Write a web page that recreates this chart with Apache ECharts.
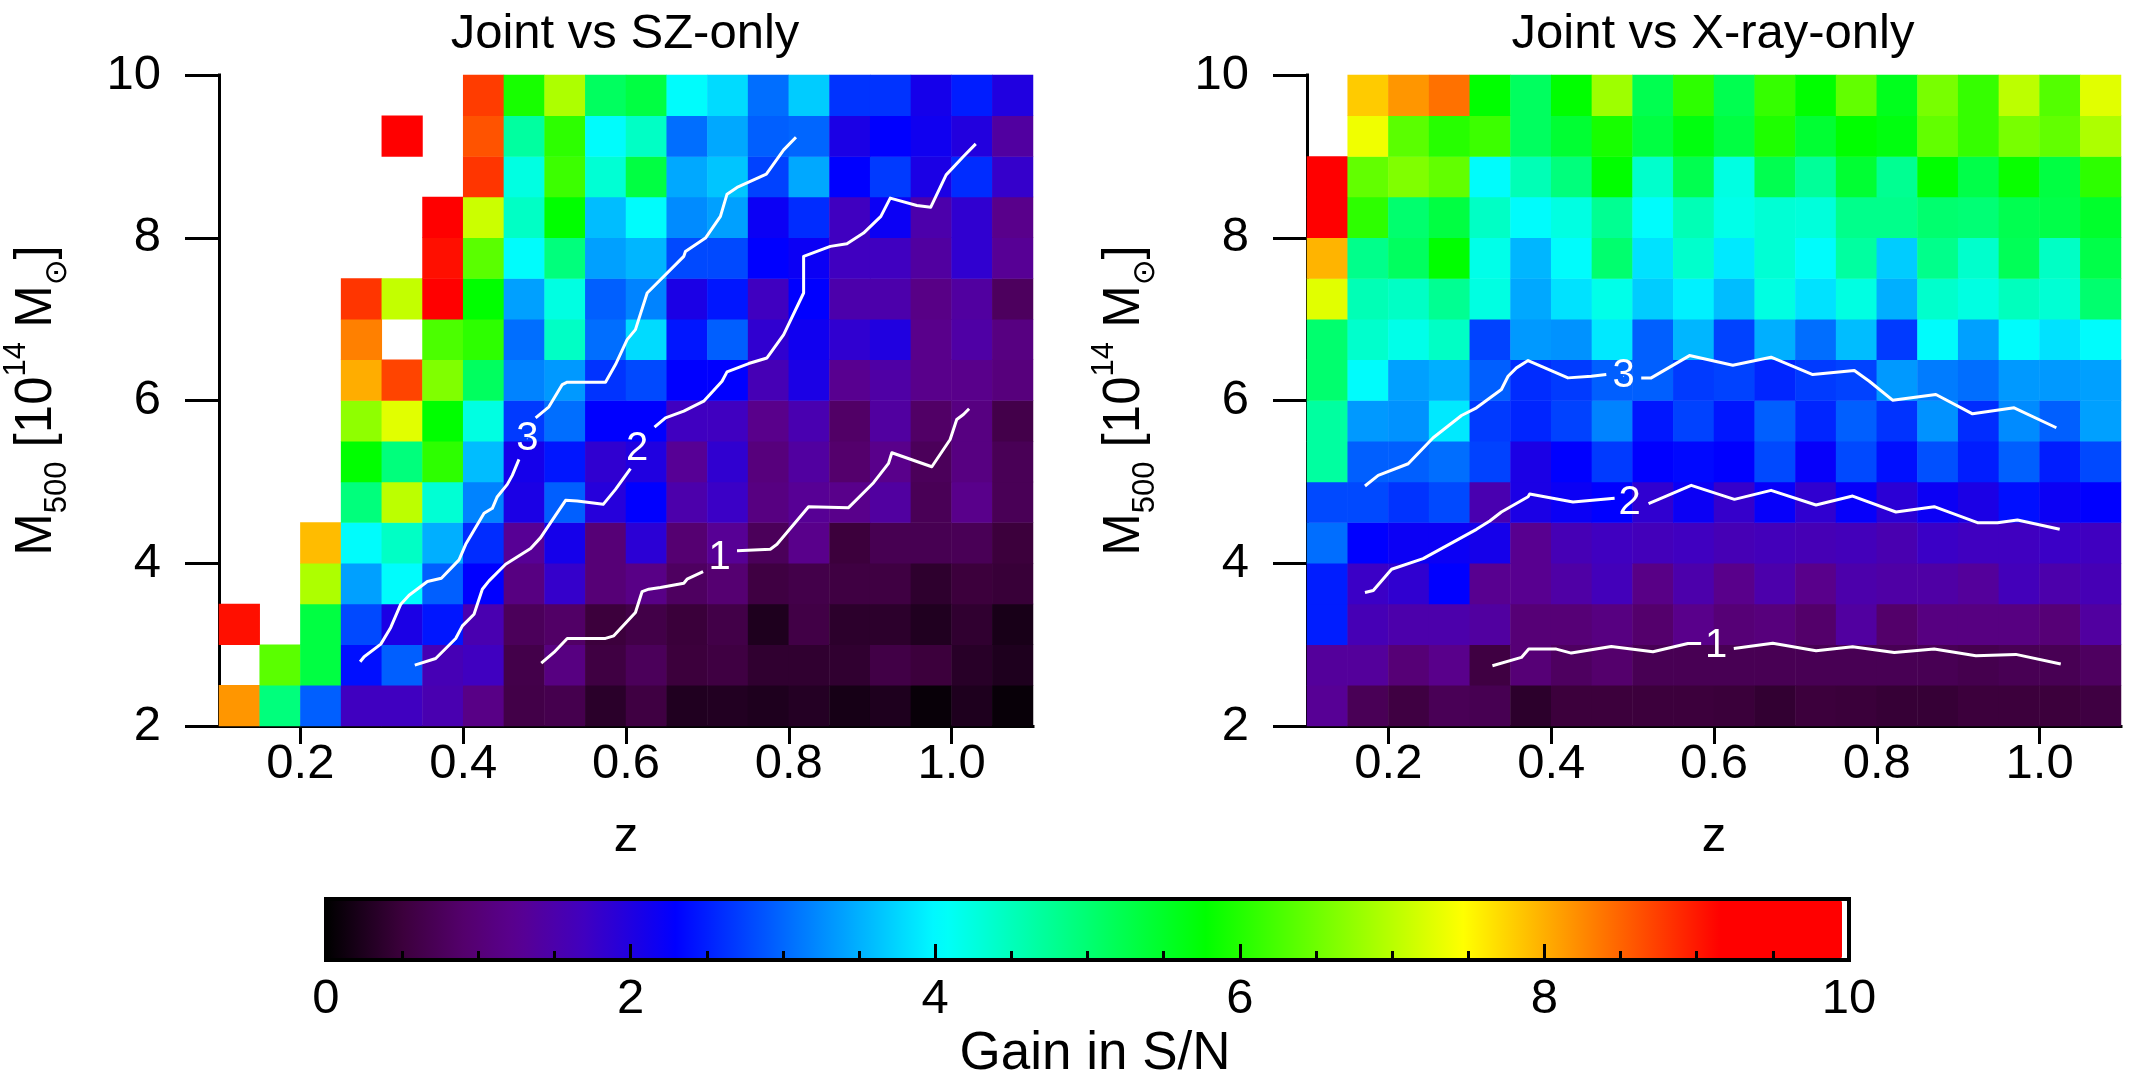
<!DOCTYPE html>
<html><head><meta charset="utf-8">
<style>html,body{margin:0;padding:0;background:#fff}#main{width:2132px;height:1082px}</style>
<script src="https://cdn.jsdelivr.net/npm/echarts@6/dist/echarts.min.js"></script>
</head><body><div id="main"></div>
<script>
var FONT = '"Liberation Sans","DejaVu Sans",sans-serif';
var zBins = ['0.10','0.15','0.20','0.25','0.30','0.35','0.40','0.45','0.50','0.55','0.60','0.65','0.70','0.75','0.80','0.85','0.90','0.95','1.00','1.05'];
var massBins = ['2.0','2.5','3.0','3.5','4.0','4.5','5.0','5.5','6.0','6.5','7.0','7.5','8.0','8.5','9.0','9.5'];
var zTicks = [0.2,0.4,0.6,0.8,1.0];
var _ = null;
// rows run from M500 = 2-2.5 (first) to 9.5-10 (last)
var gainSZ = [
[8.2,4.95,2.95,1.7,1.7,1.55,1.15,.6,.65,.35,.55,.27,.28,.25,.3,.18,.25,.07,.25,.07],
[_,6.4,5.35,2.4,2.95,1.6,1.7,.62,1.1,.55,.75,.5,.55,.4,.4,.4,.58,.5,.33,.25],
[9.1,_,5.35,2.8,2.05,2.45,1.55,.75,.85,.5,.6,.48,.6,.25,.58,.37,.37,.27,.4,.2],
[_,_,6.95,3.4,4.05,2.95,2.3,1.1,1.8,1.0,1.15,.8,.95,.55,.62,.55,.55,.38,.5,.47],
[_,_,7.95,4.05,4.45,3.5,2.6,1.3,2.1,1.0,1.9,.95,1.3,.75,1.2,.5,.68,.68,.72,.5],
[_,_,_,4.95,7.05,4.35,3.2,2.05,2.95,1.95,2.3,1.5,1.75,1.1,1.3,1.2,1.4,.72,1.2,.72],
[_,_,_,5.8,4.95,6.1,3.6,2.1,2.45,1.85,2.0,1.3,1.85,1.05,1.4,.9,1.2,.75,1.1,.72],
[_,_,_,6.75,7.3,5.8,4.25,2.7,3.05,2.3,2.3,1.7,1.7,1.2,1.55,.85,1.4,.85,1.1,.62],
[_,_,_,8.05,8.75,6.65,5.15,3.2,3.35,2.65,2.8,2.3,2.3,1.6,2.05,1.25,1.45,1.2,1.2,1.05],
[_,_,_,8.35,_,6.3,6.1,3.05,4.45,3.05,3.8,2.45,2.95,1.85,2.15,1.85,2.0,1.2,1.45,1.1],
[_,_,_,8.85,7.1,9.2,5.8,3.4,4.25,2.95,3.2,2.05,2.45,1.7,2.3,1.5,1.5,1.15,1.4,.78],
[_,_,_,_,_,9.1,6.4,4.05,4.95,3.4,3.55,2.8,2.8,2.3,2.2,1.7,1.7,1.4,1.85,1.3],
[_,_,_,_,_,9.3,7.15,4.45,5.8,3.6,4.05,3.25,3.4,2.2,2.6,1.7,2.2,1.5,1.85,1.2],
[_,_,_,_,_,_,8.85,4.25,6.2,4.35,5.35,3.45,3.65,2.75,3.45,2.3,2.7,2.05,2.6,1.8],
[_,_,_,_,9.3,_,8.65,4.7,6.1,4.05,4.45,3.05,3.45,2.95,3.0,2.05,2.3,2.15,1.98,1.4],
[_,_,_,_,_,_,8.8,5.95,6.95,5.15,5.35,4.05,3.8,3.05,3.7,2.65,2.65,2.1,2.5,2.0]
];
var gainXray = [
[1.3,.72,.55,.72,.68,.37,.5,.5,.5,.5,.48,.42,.5,.48,.45,.45,.5,.5,.5,.55],
[1.35,1.35,1.0,1.2,.55,1.0,.8,.9,.7,.7,.7,.7,.7,.7,.7,.7,.65,.7,.7,.8],
[2.5,1.6,1.5,1.5,1.4,1.0,1.0,1.1,.9,1.2,1.0,1.05,.88,1.4,.88,1.1,1.1,1.1,1.0,1.4],
[2.5,1.75,1.85,2.3,1.25,1.25,1.45,1.65,1.15,1.5,1.2,1.5,1.2,1.5,1.45,1.45,1.35,1.65,1.5,1.6],
[3.05,2.3,2.2,2.2,2.1,1.25,1.6,1.7,1.65,1.7,1.6,1.65,1.6,1.65,1.55,1.75,1.7,1.7,1.75,1.7],
[2.8,2.8,2.65,2.8,1.55,2.05,2.2,2.3,1.85,2.2,1.8,2.25,1.85,2.25,1.9,2.2,2.05,2.4,2.2,2.3],
[4.7,2.95,2.95,3.05,2.75,2.05,2.3,2.7,2.3,2.35,2.3,2.8,2.25,2.8,2.4,2.85,2.5,2.95,2.5,2.8],
[4.7,3.35,3.3,3.9,2.7,2.55,2.75,3.2,2.45,2.75,2.45,2.95,2.55,2.95,2.65,3.3,2.6,3.25,2.95,3.4],
[5.05,4.05,3.4,3.5,2.95,2.6,2.7,2.95,2.95,2.7,2.75,2.55,2.7,2.75,3.35,3.15,3.05,3.35,3.35,3.4],
[5.05,4.4,4.2,4.45,2.75,3.35,3.3,3.9,2.95,3.55,2.75,3.5,3.05,3.6,2.7,4.05,3.4,4.05,3.85,4.05],
[7.3,4.55,4.45,4.8,4.25,3.45,3.85,4.2,3.7,3.95,3.6,4.25,3.85,4.25,3.5,4.4,4.25,4.5,4.35,5.05],
[8.0,4.85,5.15,5.8,4.2,3.55,4.05,5.05,3.85,4.4,3.9,4.35,4.05,4.7,3.7,4.85,4.4,5.2,4.45,5.3],
[9.3,6.1,5.05,5.35,4.45,4.05,4.25,4.8,4.05,4.55,4.2,4.35,4.3,4.85,4.85,5.05,5.0,5.25,5.3,5.5],
[9.3,6.45,6.65,6.45,4.05,4.55,4.95,5.8,4.4,5.25,4.25,5.25,4.75,5.45,4.8,5.8,5.3,5.85,5.35,6.1],
[_,7.4,6.4,6.05,6.2,5.15,5.45,5.95,5.35,5.7,5.35,6.0,5.45,5.8,5.7,6.45,6.15,6.6,6.45,6.95],
[_,7.85,8.2,8.45,5.8,5.15,5.8,6.85,5.25,6.1,5.25,6.15,5.8,6.45,5.6,6.6,6.15,7.05,6.35,7.3]
];
// contour polylines: [z, M500]; null marks the gap left for the level label
var szLevel1 = [[.4959,2.773],[.5114,2.904],[.5278,3.076],[.5748,3.076],[.585,3.108],[.6116,3.395],[.6198,3.652],[.628,3.681],[.6423,3.702],[.671,3.755],[.675,3.804],[.6947,3.898],null,[.7364,4.155],[.7773,4.172],[.7855,4.233],[.8243,4.695],[.8734,4.683],[.9041,4.99],[.9225,5.227],[.9266,5.358],[.9757,5.186],[.9982,5.521],[1.0063,5.767],[1.0145,5.828],[1.0215,5.898]];
var szLevel2 = [[.3405,2.748],[.3662,2.83],[.3908,3.076],[.399,3.231],[.4133,3.374],[.4235,3.681],[.4317,3.783],[.4521,3.988],[.4828,4.18],[.4951,4.315],[.5074,4.499],[.5258,4.773],[.5401,4.765],[.572,4.724],[.5871,4.908],[.6055,5.162],null,[.635,5.673],[.6485,5.787],[.671,5.869],[.6955,5.992],[.718,6.237],[.7241,6.352],[.7507,6.454],[.7732,6.523],[.7937,6.81],[.8182,7.321],[.8182,7.771],[.851,7.894],[.8714,7.926],[.8918,8.057],[.9131,8.262],[.9246,8.487],[.9573,8.397],[.9744,8.376],[.9933,8.773],[1.0145,8.998],[1.0297,9.153]];
var szLevel3 = [[.2734,2.789],[.2783,2.851],[.2988,3.006],[.311,3.211],[.3233,3.497],[.3335,3.607],[.356,3.775],[.3732,3.816],[.3949,4.041],[.4031,4.233],[.4256,4.614],[.4358,4.675],[.4419,4.818],[.4542,4.969],[.4603,5.08],[.4685,5.276],null,[.489,5.787],[.5053,5.922],[.5217,6.196],[.5278,6.225],[.5748,6.225],[.5871,6.442],[.6014,6.748],[.6116,6.871],[.626,7.321],[.671,7.771],[.673,7.832],[.6976,7.996],[.716,8.262],[.7241,8.536],[.7364,8.618],[.7724,8.781],[.7937,9.08],[.8088,9.235]];
var xrayLevel1 = [[.3278,2.74],[.3634,2.843],[.3724,2.945],[.4063,2.945],[.4247,2.896],[.4738,2.978],[.525,2.912],[.5679,3.014],[.5842,3.014],null,[.6243,2.953],[.6722,3.018],[.7254,2.924],[.7703,2.973],[.8215,2.904],[.8705,2.945],[.9217,2.863],[.9708,2.88],[1.026,2.761]];
var xrayLevel2 = [[.1712,3.64],[.1814,3.665],[.2039,3.926],[.2427,4.057],[.3082,4.417],[.3245,4.519],[.3388,4.63],[.3716,4.818],[.3736,4.851],[.4268,4.753],[.4779,4.798],null,[.5196,4.732],[.5413,4.826],[.572,4.957],[.6251,4.785],[.6701,4.896],[.7253,4.716],[.7703,4.826],[.8235,4.63],[.8705,4.695],[.9237,4.499],[.9483,4.499],[.9728,4.532],[1.0247,4.417]];
var xrayLevel3 = [[.1712,4.949],[.1875,5.08],[.2243,5.223],[.255,5.542],[.2898,5.816],[.3082,5.91],[.3388,6.135],[.347,6.298],[.3573,6.401],[.3716,6.491],[.4206,6.278],[.4493,6.298],[.4677,6.319],null,[.5106,6.278],[.5229,6.278],[.5699,6.552],[.6231,6.433],[.6701,6.532],[.7213,6.319],[.7724,6.368],[.7908,6.237],[.8194,6.004],[.8726,6.074],[.9176,5.836],[.9687,5.91],[1.0206,5.665]];
var szLabels = [[.7151,4.07,'1'],[.6137,5.407,'2'],[.4787,5.53,'3']];
var xrayLabels = [[.6027,2.986,'1'],[.4963,4.744,'2'],[.489,6.298,'3']];
// colour scale stops: [gain, r, g, b]
var rampStops = [[0,0,0,0],[.5,60,0,60],[.9,84,0,108],[1.25,90,0,144],[1.7,64,0,192],[2.3,0,0,255],[4.05,0,255,255],[5.8,0,255,0],[7.5,255,255,0],[9.2,255,0,0],[10,255,0,0]];

function rampAt(v){
  for (var i=1;i<rampStops.length;i++){
    var a=rampStops[i-1], b=rampStops[i];
    if (v<=b[0]){ var t=(v-a[0])/(b[0]-a[0]);
      return 'rgb('+[1,2,3].map(function(k){return Math.round(a[k]+(b[k]-a[k])*t)}).join(',')+')'; }
  }
  return 'rgb(255,0,0)';
}
var rampColors=[]; for (var s=0;s<=100;s++) rampColors.push(rampAt(s/10));

function cells(rows){
  var out=[];
  rows.forEach(function(r,y){ r.forEach(function(v,x){ if(v!==null) out.push([x,y,v]); }); });
  return out;
}
function lineSeries(pts,ax){
  return {type:'line',xAxisIndex:ax,yAxisIndex:ax,showSymbol:false,symbol:'none',silent:true,animation:false,z:4,connectNulls:false,
    lineStyle:{color:'#fff',width:3,join:'round'},data:pts.map(function(p){return p||['-','-'];})};
}
function labelSeries(pts,ax){
  return {type:'scatter',xAxisIndex:ax,yAxisIndex:ax,symbolSize:1,silent:true,animation:false,z:5,itemStyle:{color:'#fff',opacity:1},
    label:{show:true,position:'inside',opacity:1,color:'#fff',textBorderWidth:0,fontFamily:FONT,fontSize:40,formatter:function(p){return p.value[2];}},data:pts};
}
var tickText={color:'#000',fontFamily:FONT,fontSize:49};
var axLine={show:true,onZero:false,lineStyle:{color:'#000',width:3,cap:'square'}};
var axTick={color:'#000',width:3};
var mTitle='{m|M}{s|500}{m| [10}{u|14}{m| M}{s|\u2299}{m|]}';
var mRich={m:{fontFamily:FONT,fontSize:51,lineHeight:72,color:'#000'},
  s:{fontFamily:FONT,fontSize:31,verticalAlign:'bottom',lineHeight:34,color:'#000'},
  u:{fontFamily:FONT,fontSize:31,verticalAlign:'top',lineHeight:34,color:'#000'}};

function panelAxes(g){
  return {
    x:[{type:'category',gridIndex:g,show:false,data:zBins,boundaryGap:true},
       {type:'value',gridIndex:g,min:0.1,max:1.1,position:'bottom',axisLine:axLine,splitLine:{show:false},
        axisTick:{show:true,length:18,lineStyle:axTick,customValues:zTicks},
        axisLabel:Object.assign({margin:14,customValues:zTicks,formatter:function(v){return v.toFixed(1);}},tickText),
        name:'z',nameLocation:'middle',nameGap:87,nameTextStyle:tickText,nameMoveOverlap:false}],
    y:[{type:'category',gridIndex:g,show:false,data:massBins,boundaryGap:true},
       {type:'value',gridIndex:g,min:2,max:10,interval:2,position:'left',axisLine:axLine,splitLine:{show:false},
        axisTick:{show:true,length:34,lineStyle:axTick},axisLabel:Object.assign({margin:58},tickText),
        name:mTitle,nameLocation:'middle',nameRotate:90,nameGap:146,nameMoveOverlap:false,
        nameTextStyle:{rich:mRich,fontFamily:FONT,fontSize:51}}]
  };
}
var p0=panelAxes(0), p1=panelAxes(1);
var xAxes=[p0.x[0],p0.x[1],p1.x[0],p1.x[1]];
var yAxes=[p0.y[0],p0.y[1],p1.y[0],p1.y[1]];
// xAxis/yAxis order: 0 category left, 1 value left, 2 category right, 3 value right
xAxes.push({type:'value',gridIndex:2,min:0,max:10,interval:2,z:6,position:'bottom',axisLine:{show:false},splitLine:{show:false},
  axisTick:{show:true,inside:true,length:16,lineStyle:axTick},
  minorTick:{show:true,splitNumber:4,length:9,lineStyle:axTick},
  axisLabel:Object.assign({margin:15},tickText),
  name:'Gain in S/N',nameLocation:'middle',nameGap:68,
  nameTextStyle:{color:'#000',fontFamily:FONT,fontSize:53,padding:[0,0,0,15]},nameMoveOverlap:false});
yAxes.push({type:'value',gridIndex:2,min:0,max:1,show:false});

var option={
  animation:false,backgroundColor:'#fff',
  title:[
    {text:'Joint vs SZ-only',left:620,top:5,textAlign:'center',textStyle:{color:'#000',fontFamily:FONT,fontSize:49,fontWeight:'normal'}},
    {text:'Joint vs X-ray-only',left:1708,top:5,textAlign:'center',textStyle:{color:'#000',fontFamily:FONT,fontSize:49,fontWeight:'normal'}}
  ],
  grid:[
    {left:219,top:75,width:814,height:651,containLabel:false},
    {left:1307,top:75,width:814,height:651,containLabel:false},
    {left:326,top:899,width:1523,height:61,containLabel:false,show:true,z:5,borderColor:'#000',borderWidth:4,backgroundColor:'transparent'}
  ],
  xAxis:xAxes,yAxis:yAxes,
  visualMap:{type:'continuous',min:0,max:10,show:true,seriesIndex:[0,1],orient:'horizontal',left:327,top:900,
    itemWidth:59,itemHeight:1515,padding:0,calculable:false,hoverLink:false,showLabel:false,text:null,realtime:false,z:4,
    inRange:{color:rampColors},outOfRange:{color:'#fff'},textStyle:{fontSize:0}},
  series:[
    {type:'heatmap',xAxisIndex:0,yAxisIndex:0,data:cells(gainSZ),silent:true,progressive:0,animation:false,z:2,emphasis:{disabled:true}},
    {type:'heatmap',xAxisIndex:2,yAxisIndex:2,data:cells(gainXray),silent:true,progressive:0,animation:false,z:2,emphasis:{disabled:true}},
    lineSeries(szLevel1,1),lineSeries(szLevel2,1),lineSeries(szLevel3,1),labelSeries(szLabels,1),
    lineSeries(xrayLevel1,3),lineSeries(xrayLevel2,3),lineSeries(xrayLevel3,3),labelSeries(xrayLabels,3)
  ]
};
var chart=echarts.init(document.getElementById('main'),null,{renderer:'canvas',width:2132,height:1082});
chart.setOption(option);
</script></body></html>
